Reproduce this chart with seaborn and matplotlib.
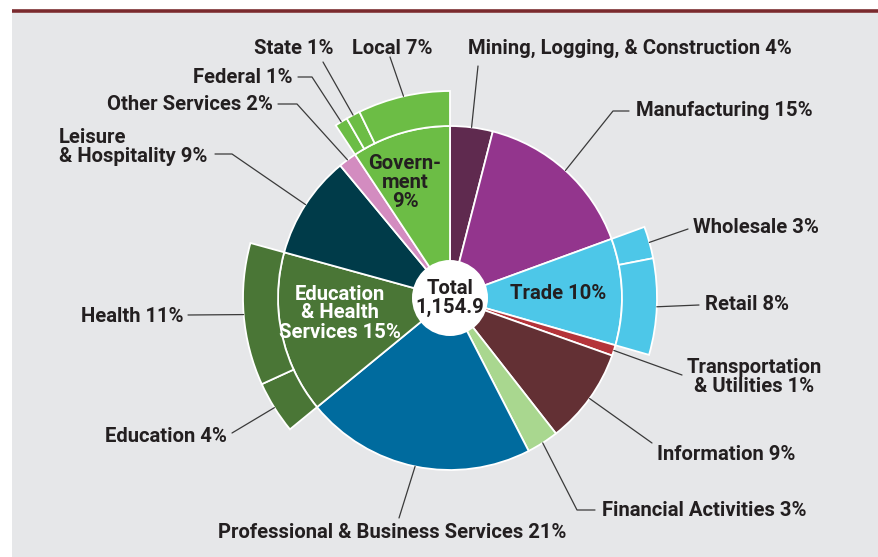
import numpy as np
import matplotlib
matplotlib.use("Agg")
import matplotlib.pyplot as plt
import matplotlib.patches as mpatches
import seaborn as sns

# ---- data (shares of total nonfarm jobs, %) ----
sectors = ["Mining, Logging, & Construction", "Manufacturing", "Trade",
           "Transportation & Utilities", "Information", "Financial Activities",
           "Professional & Business Services", "Education & Health Services",
           "Leisure & Hospitality", "Other Services", "Government"]
shares = [4.0, 15.4, 10.0, 1.0, 9.0, 3.0, 21.6, 15.2, 9.7, 1.7, 9.3]
share_labels = [4, 15, 10, 1, 9, 3, 21, 15, 9, 2, 9]

trade_subs = ["Wholesale", "Retail"]
trade_sub_shares = [2.5, 7.5]
trade_sub_labels = [3, 8]

eh_subs = ["Education", "Health"]
eh_sub_shares = [4.1, 11.1]
eh_sub_labels = [4, 11]

gov_subs = ["Federal", "State", "Local"]
gov_sub_shares = [1.0, 1.1, 7.2]
gov_sub_labels = [1, 1, 7]

total_jobs = "1,154.9"

sector_colors = ["#5f2a4f", "#93358d", "#4dc7e8", "#b4343a", "#633034", "#a9d78f",
                 "#006b9e", "#4a7636", "#003b49", "#d38cc0", "#6cbd45"]

W, H = 879, 557
CX, CY = 450, 298          # pie centre, pixels from top-left
R_IN, R_OUT, R_HOLE = 172, 207, 38
TXT = "#231f20"
LINE = "#3a3a3a"
FS = 14.6

sns.set_theme(style="white")
plt.rcParams["font.family"] = ["Roboto", "DejaVu Sans"]


def py(y):
    # pixel row (from top) -> data y
    return H - y


subs = {"Trade": (trade_subs, trade_sub_shares, trade_sub_labels),
        "Education & Health Services": (eh_subs, eh_sub_shares, eh_sub_labels),
        "Government": (gov_subs, gov_sub_shares, gov_sub_labels)}

outer_vals, outer_names, outer_cols = [], [], []
for name, val, col in zip(sectors, shares, sector_colors):
    if name in subs:
        for sn, sv in zip(subs[name][0], subs[name][1]):
            outer_vals.append(sv)
            outer_names.append(sn)
            outer_cols.append(col)
    else:
        outer_vals.append(val)
        outer_names.append(None)
        outer_cols.append("none")

fig = plt.figure(figsize=(W / 100, H / 100), dpi=100, facecolor="white")
ax = fig.add_axes([0, 0, 1, 1])

# background panel and the rule under the (cut off) title
ax.add_patch(mpatches.Rectangle((12, 0), W - 12, H - 13,
                                facecolor="#e6e7e9", edgecolor="none", zorder=0))
ax.plot([12, W], [py(11), py(11)], color="#7a2a2e", lw=2.6, solid_capstyle="butt", zorder=1)

wp = dict(edgecolor="white", linewidth=1.3)
inner, _ = ax.pie(shares, colors=sector_colors, radius=R_IN, center=(CX, py(CY)),
                  startangle=90, counterclock=False, wedgeprops=wp, frame=True)
outer, _ = ax.pie(outer_vals, colors=[c if c != "none" else "white" for c in outer_cols],
                  radius=R_OUT, center=(CX, py(CY)), startangle=90, counterclock=False,
                  wedgeprops=dict(width=R_OUT - R_IN, **wp), frame=True)
for w, n in zip(outer, outer_names):
    if n is None:
        w.set_visible(False)
for w in inner + outer:
    w.set_zorder(2)
ax.add_patch(mpatches.Circle((CX, py(CY)), R_HOLE, facecolor="white", edgecolor="none", zorder=3))


def anchor(w, r=None):
    t = np.deg2rad((w.theta1 + w.theta2) / 2)
    r = w.r if r is None else r
    return w.center[0] + r * np.cos(t), w.center[1] + r * np.sin(t)


inner_w = dict(zip(sectors, inner))
outer_w = {n: w for n, w in zip(outer_names, outer) if n is not None}

# label text, text position (px), alignment, leader elbow points (px)
outer_labels = [
    (inner_w[sectors[0]], f"{sectors[0]} {share_labels[0]}%", (468, 48), "left", [(478, 66)]),
    (inner_w[sectors[1]], f"{sectors[1]} {share_labels[1]}%", (636, 110), "left", [(613, 111), (629, 111)]),
    (outer_w["Wholesale"], f"Wholesale {trade_sub_labels[0]}%", (693, 227), "left", [(688, 229)]),
    (outer_w["Retail"], f"Retail {trade_sub_labels[1]}%", (705, 305), "left", [(699, 305)]),
    (inner_w[sectors[3]], f"Transportation\n& Utilities {share_labels[3]}%", (754, 377), "center", [(682, 375)]),
    (inner_w[sectors[4]], f"{sectors[4]} {share_labels[4]}%", (657, 455), "left", [(652, 443)]),
    (inner_w[sectors[5]], f"{sectors[5]} {share_labels[5]}%", (602, 510), "left", [(577, 510), (595, 510)]),
    (inner_w[sectors[6]], f"{sectors[6]} {share_labels[6]}%", (392, 532), "center", [(399, 518)]),
    (outer_w["Health"], f"Health {eh_sub_labels[1]}%", (184, 317), "right", [(188, 315)]),
    (outer_w["Education"], f"Education {eh_sub_labels[0]}%", (227, 437), "right", [(232, 433)]),
    (inner_w[sectors[8]], f"Leisure\n& Hospitality {share_labels[8]}%", (59, 147), "left", [(232, 154), (215, 154)]),
    (inner_w[sectors[9]], f"{sectors[9]} {share_labels[9]}%", (273, 104), "right", [(297, 104), (278, 104)]),
    (outer_w["Federal"], f"Federal {gov_sub_labels[0]}%", (293, 77), "right", [(312, 77), (298, 77)]),
    (outer_w["State"], f"State {gov_sub_labels[1]}%", (294, 48), "center", [(323, 62)]),
    (outer_w["Local"], f"Local {gov_sub_labels[2]}%", (392, 48), "center", [(390, 57)]),
]

for w, txt, (tx, ty), ha, elbows in outer_labels:
    x0, y0 = anchor(w)
    xs = [x0] + [e[0] for e in elbows]
    ys = [y0] + [py(e[1]) for e in elbows]
    ax.plot(xs, ys, color=LINE, lw=0.9, zorder=4)
    ax.text(tx, py(ty), txt, ha=ha, va="center", ma=ha,
            fontsize=FS, fontweight="bold", color=TXT, linespacing=1.02, zorder=5)

# labels inside the pie
ax.text(558, py(293), f"Trade {share_labels[2]}%", ha="center", va="center",
        fontsize=FS, fontweight="bold", color=TXT, zorder=5)
ax.text(340, py(313), f"Education\n& Health\nServices {share_labels[7]}%", ha="center", va="center",
        fontsize=FS, fontweight="bold", color="white", linespacing=1.0, zorder=5)
ax.text(405, py(182), f"Govern-\nment\n{share_labels[10]}%", ha="center", va="center",
        fontsize=FS, fontweight="bold", color=TXT, linespacing=1.0, zorder=5)
ax.text(CX, py(CY), f"Total\n{total_jobs}", ha="center", va="center",
        fontsize=FS, fontweight="bold", color=TXT, linespacing=1.0, zorder=5)

ax.set_xlim(0, W)
ax.set_ylim(0, H)
ax.set_aspect("equal")
ax.axis("off")

fig.savefig("out.png", dpi=100, facecolor="white")
